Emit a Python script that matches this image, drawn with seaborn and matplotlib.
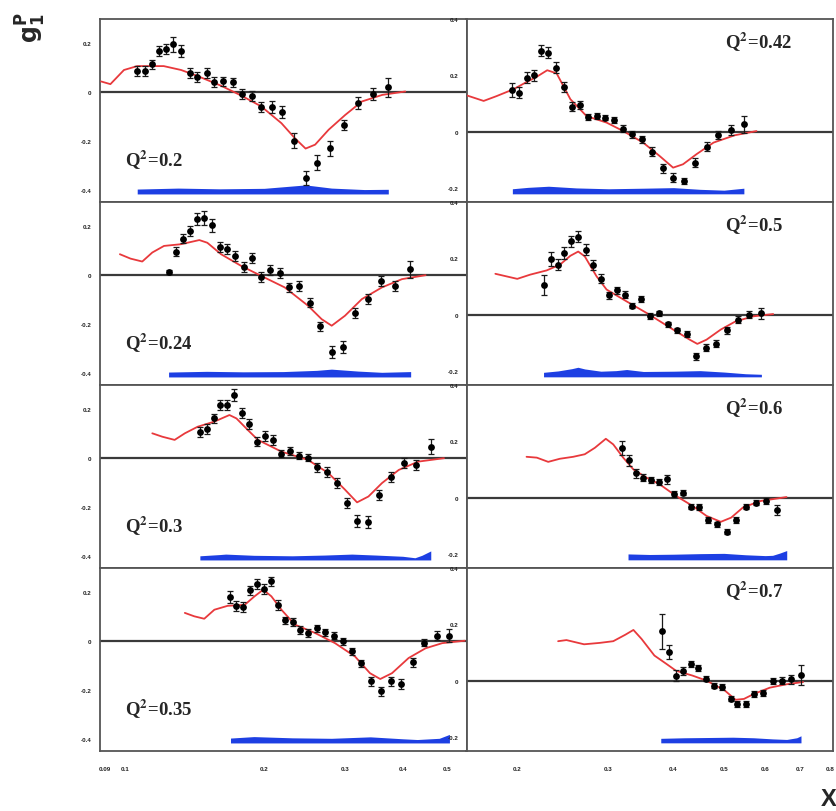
"""
g1 of the proton vs x for eight Q^2 bins: data points, model curve and
systematic-error band, laid out as a 4x2 grid of panels.
"""

import matplotlib
matplotlib.use("Agg")
import matplotlib.pyplot as plt
from matplotlib.ticker import MultipleLocator, NullLocator
import seaborn as sns

# ---- Q^2 = 0.2 ----
X_Q020 = [0.106, 0.110, 0.114, 0.118, 0.1225, 0.127, 0.132, 0.138, 0.143, 0.150, 0.156, 0.163, 0.171,
          0.179, 0.188, 0.197, 0.208, 0.219, 0.232, 0.246, 0.261, 0.278, 0.298, 0.320, 0.344, 0.372]
G1_Q020 = [0.087, 0.087, 0.114, 0.170, 0.176, 0.196, 0.170, 0.078, 0.061, 0.079, 0.041, 0.044, 0.040,
           -0.008, -0.016, -0.061, -0.061, -0.082, -0.199, -0.351, -0.289, -0.230, -0.135, -0.044, -0.007, 0.020]
ERR_Q020 = [0.02, 0.02, 0.02, 0.02, 0.02, 0.03, 0.025, 0.02, 0.02, 0.02, 0.02, 0.02, 0.02,
            0.02, 0.02, 0.02, 0.025, 0.025, 0.03, 0.03, 0.03, 0.03, 0.02, 0.025, 0.025, 0.04]
CX_Q020 = [0.0885, 0.0927, 0.0992, 0.106, 0.121, 0.132, 0.143, 0.161, 0.178, 0.197, 0.218, 0.233, 0.246,
           0.258, 0.276, 0.300, 0.326, 0.361, 0.405]
CY_Q020 = [0.044, 0.033, 0.091, 0.107, 0.107, 0.091, 0.067, 0.027, -0.013, -0.058, -0.127, -0.188, -0.231,
           -0.215, -0.154, -0.093, -0.038, -0.011, 0.003]
BX_Q020 = [0.106, 0.13, 0.16, 0.2, 0.246, 0.28, 0.33, 0.372]
BTOP_Q020 = [-0.397, -0.393, -0.396, -0.394, -0.380, -0.393, -0.399, -0.398]

# ---- Q^2 = 0.24 ----
X_Q024 = [0.1242, 0.1286, 0.1330, 0.1380, 0.1430, 0.1482, 0.1541, 0.1602, 0.1661, 0.1729, 0.1804, 0.1884, 0.1971,
          0.2064, 0.2161, 0.2269, 0.2386, 0.2509, 0.2648, 0.2803, 0.2972, 0.3151, 0.3358, 0.3591, 0.3853, 0.4156]
G1_Q024 = [0.013, 0.097, 0.150, 0.181, 0.231, 0.235, 0.204, 0.116, 0.106, 0.079, 0.034, 0.072, -0.008,
           0.022, 0.008, -0.050, -0.045, -0.112, -0.210, -0.316, -0.295, -0.156, -0.098, -0.023, -0.044, 0.024]
ERR_Q024 = [0.008, 0.02, 0.02, 0.02, 0.025, 0.03, 0.025, 0.02, 0.02, 0.02, 0.02, 0.02, 0.02,
            0.02, 0.02, 0.02, 0.02, 0.02, 0.02, 0.025, 0.025, 0.02, 0.02, 0.02, 0.02, 0.035]
CX_Q024 = [0.0972, 0.1025, 0.1087, 0.1143, 0.1212, 0.1319, 0.1446, 0.1505, 0.1612, 0.1783, 0.1971, 0.2216,
           0.2490, 0.2665, 0.2803, 0.2996, 0.3259, 0.3604, 0.3985, 0.4482]
CY_Q024 = [0.086, 0.068, 0.056, 0.093, 0.120, 0.127, 0.144, 0.133, 0.086, 0.038, -0.003, -0.050,
           -0.125, -0.180, -0.207, -0.166, -0.098, -0.050, -0.016, 0.000]
BX_Q024 = [0.124, 0.15, 0.18, 0.22, 0.26, 0.28, 0.32, 0.36, 0.416]
BTOP_Q024 = [-0.397, -0.394, -0.396, -0.395, -0.390, -0.385, -0.393, -0.398, -0.395]

# ---- Q^2 = 0.3 ----
X_Q030 = [0.1452, 0.1502, 0.1554, 0.1607, 0.1661, 0.1723, 0.1792, 0.1858, 0.1932, 0.2006, 0.2091, 0.2180, 0.2277,
          0.2378, 0.2484, 0.2603, 0.2733, 0.2874, 0.3022, 0.3182, 0.3358, 0.3557, 0.3777, 0.4019, 0.4282, 0.4603]
G1_Q030 = [0.106, 0.120, 0.163, 0.218, 0.218, 0.258, 0.186, 0.139, 0.068, 0.091, 0.075, 0.018, 0.030,
           0.011, 0.002, -0.038, -0.057, -0.102, -0.184, -0.256, -0.260, -0.150, -0.078, -0.020, -0.027, 0.047]
ERR_Q030 = [0.02, 0.02, 0.02, 0.02, 0.02, 0.025, 0.02, 0.02, 0.02, 0.02, 0.02, 0.015, 0.015,
            0.015, 0.015, 0.02, 0.02, 0.02, 0.02, 0.025, 0.025, 0.02, 0.02, 0.02, 0.02, 0.03]
CX_Q030 = [0.1143, 0.1202, 0.1278, 0.1345, 0.1434, 0.1559, 0.1681, 0.1741, 0.1842, 0.1938, 0.218, 0.249,
           0.2757, 0.2996, 0.3182, 0.3368, 0.3604, 0.3920, 0.4320, 0.4914]
CY_Q030 = [0.102, 0.088, 0.075, 0.102, 0.129, 0.150, 0.177, 0.163, 0.116, 0.075, 0.027, -0.007,
           -0.061, -0.129, -0.181, -0.157, -0.102, -0.048, -0.014, 0.000]
BX_Q030 = [0.145, 0.16, 0.165, 0.19, 0.23, 0.27, 0.31, 0.35, 0.40, 0.425, 0.44, 0.46]
BTOP_Q030 = [-0.400, -0.395, -0.393, -0.398, -0.400, -0.397, -0.393, -0.397, -0.402, -0.408, -0.398, -0.380]

# ---- Q^2 = 0.35 ----
X_Q035 = [0.1689, 0.1741, 0.1801, 0.1862, 0.1925, 0.1998, 0.2073, 0.2144, 0.2224, 0.2307, 0.2397, 0.2496, 0.2603,
          0.2715, 0.2836, 0.2962, 0.3104, 0.3249, 0.3409, 0.3586, 0.3771, 0.3971, 0.4211, 0.4457, 0.4735, 0.5038]
G1_Q035 = [0.181, 0.143, 0.139, 0.208, 0.235, 0.213, 0.245, 0.149, 0.086, 0.079, 0.046, 0.033, 0.053,
           0.037, 0.023, 0.000, -0.042, -0.090, -0.165, -0.206, -0.165, -0.175, -0.087, -0.006, 0.023, 0.023]
ERR_Q035 = [0.025, 0.02, 0.02, 0.02, 0.02, 0.02, 0.02, 0.02, 0.015, 0.015, 0.015, 0.015, 0.015,
            0.015, 0.015, 0.015, 0.015, 0.015, 0.02, 0.02, 0.02, 0.02, 0.02, 0.015, 0.02, 0.025]
CX_Q035 = [0.1345, 0.1410, 0.1482, 0.1559, 0.1666, 0.1814, 0.1906, 0.1990, 0.2073, 0.218, 0.2331, 0.2577,
           0.2850, 0.3151, 0.3394, 0.3573, 0.3790, 0.4117, 0.4482, 0.4872, 0.545]
CY_Q035 = [0.116, 0.102, 0.092, 0.129, 0.145, 0.149, 0.184, 0.211, 0.184, 0.129, 0.068, 0.034,
           -0.008, -0.063, -0.131, -0.155, -0.131, -0.069, -0.029, -0.008, 0.002]
BX_Q035 = [0.169, 0.19, 0.23, 0.28, 0.34, 0.40, 0.43, 0.48, 0.505]
BTOP_Q035 = [-0.397, -0.391, -0.396, -0.398, -0.392, -0.400, -0.403, -0.398, -0.382]

# ---- Q^2 = 0.42 ----
X_Q042 = [0.1959, 0.2020, 0.2087, 0.2153, 0.2221, 0.2297, 0.2380, 0.2462, 0.2551, 0.2639, 0.2742, 0.2845, 0.2955,
          0.3072, 0.3201, 0.3335, 0.3481, 0.3638, 0.3810, 0.3992, 0.4185, 0.4395, 0.4628, 0.4872, 0.5153, 0.5457]
G1_Q042 = [0.148, 0.138, 0.191, 0.200, 0.288, 0.280, 0.227, 0.160, 0.089, 0.094, 0.052, 0.055, 0.050,
           0.041, 0.011, -0.010, -0.027, -0.071, -0.131, -0.163, -0.175, -0.110, -0.053, -0.013, 0.006, 0.026]
ERR_Q042 = [0.025, 0.02, 0.02, 0.02, 0.02, 0.02, 0.02, 0.018, 0.015, 0.015, 0.012, 0.01, 0.01,
            0.01, 0.012, 0.012, 0.012, 0.015, 0.015, 0.015, 0.012, 0.015, 0.015, 0.015, 0.018, 0.03]
CX_Q042 = [0.160, 0.1726, 0.1827, 0.1967, 0.2087, 0.2184, 0.2287, 0.2384, 0.2534, 0.2722, 0.2974, 0.3201,
           0.3496, 0.3763, 0.3992, 0.4171, 0.4429, 0.4774, 0.5243, 0.5773]
CY_Q042 = [0.129, 0.109, 0.126, 0.150, 0.176, 0.195, 0.218, 0.207, 0.115, 0.055, 0.032, 0.002,
           -0.039, -0.087, -0.128, -0.116, -0.080, -0.039, -0.013, 0.002]
BX_Q042 = [0.196, 0.21, 0.23, 0.26, 0.30, 0.35, 0.40, 0.45, 0.50, 0.546]
BTOP_Q042 = [-0.203, -0.198, -0.194, -0.200, -0.203, -0.201, -0.199, -0.205, -0.208, -0.201]

# ---- Q^2 = 0.5 ----
X_Q050 = [0.2257, 0.2321, 0.2394, 0.2466, 0.2543, 0.2623, 0.2714, 0.2803, 0.2900, 0.3000, 0.3109, 0.3220, 0.3335,
          0.3466, 0.3601, 0.3748, 0.3900, 0.4063, 0.4236, 0.4420, 0.4620, 0.4829, 0.5063, 0.5315, 0.5588, 0.5893]
G1_Q050 = [0.106, 0.198, 0.177, 0.219, 0.260, 0.277, 0.230, 0.177, 0.128, 0.068, 0.086, 0.071, 0.032,
           0.056, -0.004, 0.004, -0.035, -0.056, -0.068, -0.148, -0.118, -0.103, -0.056, -0.018, 0.000, 0.004]
ERR_Q050 = [0.035, 0.025, 0.02, 0.02, 0.02, 0.02, 0.02, 0.018, 0.015, 0.012, 0.012, 0.012, 0.01,
            0.01, 0.01, 0.01, 0.01, 0.01, 0.01, 0.012, 0.012, 0.012, 0.012, 0.012, 0.012, 0.02]
CX_Q050 = [0.1818, 0.1908, 0.2003, 0.2121, 0.2281, 0.2418, 0.2534, 0.2623, 0.2700, 0.2845, 0.2974, 0.3249,
           0.3549, 0.3992, 0.4296, 0.4444, 0.4628, 0.4930, 0.5263, 0.5697, 0.6216]
CY_Q050 = [0.145, 0.136, 0.127, 0.142, 0.157, 0.177, 0.209, 0.224, 0.207, 0.136, 0.089, 0.047,
           0.006, -0.053, -0.089, -0.104, -0.089, -0.053, -0.024, -0.006, 0.002]
BX_Q050 = [0.225, 0.24, 0.255, 0.262, 0.27, 0.29, 0.31, 0.325, 0.35, 0.40, 0.45, 0.50, 0.55, 0.59]
BTOP_Q050 = [-0.205, -0.200, -0.192, -0.187, -0.193, -0.201, -0.199, -0.195, -0.202, -0.201, -0.199,
             -0.204, -0.210, -0.212]

# ---- Q^2 = 0.6 ----
X_Q060 = [0.3178, 0.3278, 0.3385, 0.3496, 0.3617, 0.3748, 0.3878, 0.4016, 0.4162, 0.4317, 0.4479, 0.4661,
          0.4850, 0.5056, 0.5276, 0.5507, 0.5756, 0.6016, 0.6316]
G1_Q060 = [0.177, 0.132, 0.086, 0.071, 0.063, 0.056, 0.065, 0.012, 0.018, -0.032, -0.034, -0.079,
           -0.095, -0.121, -0.080, -0.032, -0.018, -0.012, -0.045]
ERR_Q060 = [0.025, 0.018, 0.015, 0.012, 0.01, 0.01, 0.015, 0.01, 0.01, 0.01, 0.01, 0.01,
            0.01, 0.01, 0.01, 0.01, 0.01, 0.01, 0.018]
CX_Q060 = [0.2087, 0.2184, 0.2297, 0.2418, 0.2566, 0.2700, 0.2824, 0.2964, 0.3063, 0.3201, 0.3349, 0.3549,
           0.3763, 0.4044, 0.4347, 0.4628, 0.4930, 0.5162, 0.5438, 0.5880, 0.6594]
CY_Q060 = [0.145, 0.142, 0.127, 0.138, 0.145, 0.154, 0.177, 0.209, 0.189, 0.142, 0.100, 0.071,
           0.047, 0.006, -0.029, -0.065, -0.086, -0.071, -0.035, -0.012, 0.002]
BX_Q060 = [0.327, 0.36, 0.40, 0.45, 0.50, 0.55, 0.60, 0.62, 0.64, 0.66]
BTOP_Q060 = [-0.200, -0.202, -0.201, -0.199, -0.198, -0.203, -0.206, -0.205, -0.197, -0.188]

# ---- Q^2 = 0.7 ----
X_Q070 = [0.3798, 0.3917, 0.4041, 0.4171, 0.4312, 0.4454, 0.4614, 0.4781, 0.4952, 0.5162, 0.5308, 0.5507,
          0.5722, 0.5945, 0.6199, 0.6457, 0.6720, 0.7015]
G1_Q070 = [0.175, 0.101, 0.018, 0.035, 0.059, 0.045, 0.007, -0.018, -0.023, -0.064, -0.082, -0.084,
           -0.048, -0.043, -0.002, 0.000, 0.004, 0.021]
ERR_Q070 = [0.062, 0.024, 0.02, 0.015, 0.012, 0.012, 0.01, 0.01, 0.01, 0.01, 0.01, 0.01,
            0.01, 0.01, 0.01, 0.012, 0.015, 0.035]
CX_Q070 = [0.2400, 0.2490, 0.2692, 0.2885, 0.3063, 0.3231, 0.3349, 0.3472, 0.3675, 0.3878, 0.4044, 0.4347,
           0.4628, 0.5018, 0.5263, 0.5462, 0.5697, 0.6125, 0.6594, 0.7095]
CY_Q070 = [0.140, 0.144, 0.129, 0.134, 0.140, 0.163, 0.180, 0.148, 0.089, 0.059, 0.035, 0.018,
           0.000, -0.035, -0.068, -0.065, -0.048, -0.025, -0.013, -0.005]
BX_Q070 = [0.378, 0.42, 0.47, 0.52, 0.57, 0.62, 0.66, 0.69, 0.703]
BTOP_Q070 = [-0.205, -0.203, -0.202, -0.201, -0.203, -0.207, -0.209, -0.203, -0.196]

# systematic band baselines
BAND_BASE_LEFT = -0.417
BAND_BASE_RIGHT = -0.221

# axis ticks
LEFT_XTICKS = [0.09, 0.1, 0.2, 0.3, 0.4, 0.5]
LEFT_XLABELS = ["0.09", "0.1", "0.2", "0.3", "0.4", "0.5"]
RIGHT_XTICKS = [0.2, 0.3, 0.4, 0.5, 0.6, 0.7, 0.8]
RIGHT_XLABELS = ["0.2", "0.3", "0.4", "0.5", "0.6", "0.7", "0.8"]
LEFT_YTICKS = [-0.4, -0.2, 0.0, 0.2]
LEFT_YLABELS = ["-0.4", "-0.2", "0", "0.2"]
RIGHT_YTICKS = [-0.2, 0.0, 0.2, 0.4]
RIGHT_YLABELS = ["-0.2", "0", "0.2", "0.4"]

LEFT_PANELS = [
    ("0.2", X_Q020, G1_Q020, ERR_Q020, CX_Q020, CY_Q020, BX_Q020, BTOP_Q020),
    ("0.24", X_Q024, G1_Q024, ERR_Q024, CX_Q024, CY_Q024, BX_Q024, BTOP_Q024),
    ("0.3", X_Q030, G1_Q030, ERR_Q030, CX_Q030, CY_Q030, BX_Q030, BTOP_Q030),
    ("0.35", X_Q035, G1_Q035, ERR_Q035, CX_Q035, CY_Q035, BX_Q035, BTOP_Q035),
]
RIGHT_PANELS = [
    ("0.42", X_Q042, G1_Q042, ERR_Q042, CX_Q042, CY_Q042, BX_Q042, BTOP_Q042),
    ("0.5", X_Q050, G1_Q050, ERR_Q050, CX_Q050, CY_Q050, BX_Q050, BTOP_Q050),
    ("0.6", X_Q060, G1_Q060, ERR_Q060, CX_Q060, CY_Q060, BX_Q060, BTOP_Q060),
    ("0.7", X_Q070, G1_Q070, ERR_Q070, CX_Q070, CY_Q070, BX_Q070, BTOP_Q070),
]

sns.set_style("white")
plt.rcParams["font.family"] = ["Liberation Sans", "DejaVu Sans"]

AXIS_COLOR = "#555555"
RED = "#e8393c"
BLUE = "#1d3fe3"


def draw_panel(ax, panel, left, bottom_row):
    q2, x, g1, err, cx, cy, bx, btop = panel
    base = BAND_BASE_LEFT if left else BAND_BASE_RIGHT

    ax.set_xscale("log")
    ax.axhline(0, color="#3a3a3a", lw=1.6, zorder=1)
    ax.fill_between(bx, [base] * len(bx), btop, color=BLUE, lw=0, zorder=2)
    sns.lineplot(x=cx, y=cy, ax=ax, sort=False, estimator=None, color=RED, lw=1.3, zorder=3)
    ax.errorbar(x, g1, yerr=err, fmt="none", ecolor="#1a1a1a", elinewidth=0.9,
                capsize=2.2, capthick=0.9, zorder=4)
    sns.scatterplot(x=x, y=g1, ax=ax, color="black", s=24, linewidth=0, zorder=5)

    if left:
        ax.set_xlim(0.088, 0.55)
        ax.set_ylim(-0.45, 0.3)
        ax.set_xticks(LEFT_XTICKS)
        ax.set_xticklabels(LEFT_XLABELS)
        ax.set_yticks(LEFT_YTICKS)
        ax.set_yticklabels(LEFT_YLABELS)
        ax.text(0.068, 0.235, "Q$^{\\mathbf{2}}$=" + q2, transform=ax.transAxes,
                fontsize=13.5, fontweight="bold", family="Liberation Serif",
                math_fontfamily="stix", va="center", ha="left")
    else:
        ax.set_xlim(0.16, 0.81)
        ax.set_ylim(-0.25, 0.4)
        ax.set_xticks(RIGHT_XTICKS)
        ax.set_xticklabels(RIGHT_XLABELS)
        ax.set_yticks(RIGHT_YTICKS)
        ax.set_yticklabels(RIGHT_YLABELS)
        ax.text(0.705, 0.875, "Q$^{\\mathbf{2}}$=" + q2, transform=ax.transAxes,
                fontsize=13.5, fontweight="bold", family="Liberation Serif",
                math_fontfamily="stix", va="center", ha="left")

    ax.xaxis.set_minor_locator(NullLocator())
    ax.yaxis.set_minor_locator(MultipleLocator(0.05))
    ax.tick_params(axis="y", which="major", direction="in", length=9, width=0.8,
                   color=AXIS_COLOR, pad=6, labelsize=4.5)
    ax.tick_params(axis="y", which="minor", direction="in", length=5, width=0.6, color=AXIS_COLOR)
    ax.tick_params(axis="x", which="major", direction="in", length=10, width=0.8,
                   color=AXIS_COLOR, pad=11, labelsize=4.5, labelbottom=bottom_row)
    for lab in ax.get_xticklabels() + ax.get_yticklabels():
        lab.set_fontweight("bold")
        lab.set_color("#222222")
    for spine in ax.spines.values():
        spine.set_color(AXIS_COLOR)
        spine.set_linewidth(1.3)
    ax.set_xlabel("")
    ax.set_ylabel("")


fig = plt.figure(figsize=(8.37, 8.12), dpi=100)
gs = fig.add_gridspec(4, 2, left=100 / 837, right=833 / 837, top=1 - 20 / 812,
                      bottom=1 - 752 / 812, hspace=0, wspace=0)

for row in range(4):
    draw_panel(fig.add_subplot(gs[row, 0]), LEFT_PANELS[row], True, row == 3)
    draw_panel(fig.add_subplot(gs[row, 1]), RIGHT_PANELS[row], False, row == 3)

fig.text(0.037, 0.966, r"$\mathbf{g_{1}^{P}}$", rotation=90, fontsize=17,
         math_fontfamily="dejavusans", ha="center", va="center")
fig.text(0.990, 0.016, "X", fontsize=17, fontweight="bold",
         family=["Liberation Sans Narrow", "Liberation Sans", "DejaVu Sans"], ha="center", va="center")

fig.savefig("out.png", dpi=100)
plt.close(fig)
